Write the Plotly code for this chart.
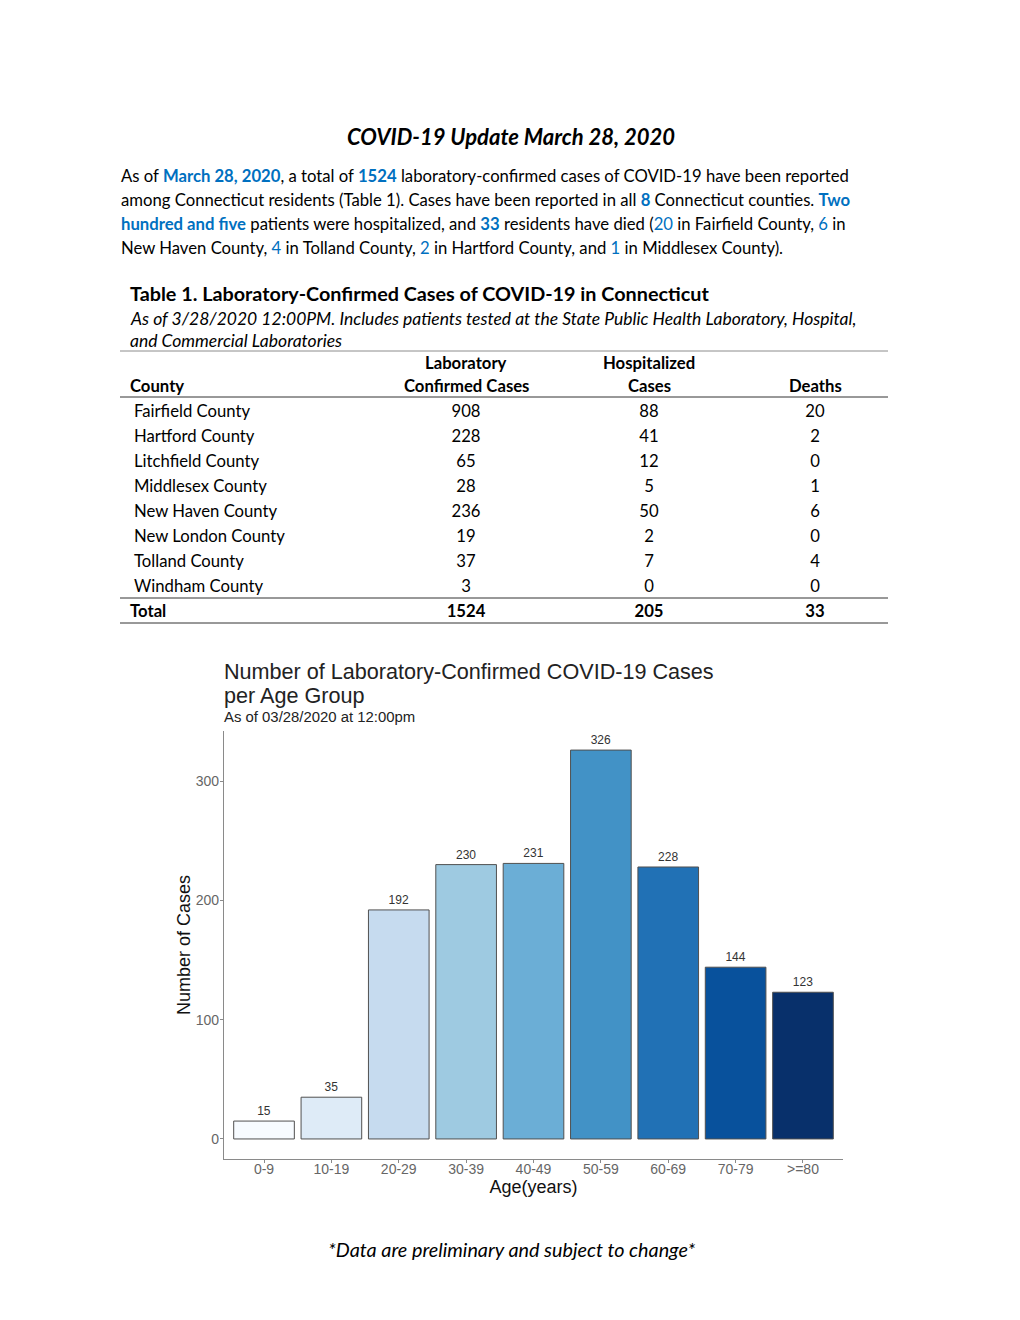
import plotly.graph_objects as go

W, H = 1020, 1320
def px(x): return x / W
def py(y): return 1 - y / H

# ---------------- data ----------------
age_groups = ["0-9", "10-19", "20-29", "30-39", "40-49", "50-59", "60-69", "70-79", ">=80"]
age_cases = [15, 35, 192, 230, 231, 326, 228, 144, 123]
bar_colors = ["#F7FBFF", "#DEEBF7", "#C6DBEF", "#9ECAE1", "#6BAED6",
              "#4292C6", "#2171B5", "#08519C", "#08306B"]
y_ticks = [0, 100, 200, 300]

counties = ["Fairfield County", "Hartford County", "Litchfield County", "Middlesex County",
            "New Haven County", "New London County", "Tolland County", "Windham County"]
lab_cases = [908, 228, 65, 28, 236, 19, 37, 3]
hospitalized = [88, 41, 12, 5, 50, 2, 7, 0]
deaths = [20, 2, 0, 1, 6, 0, 4, 0]

BODY = "Lato"
CHART = "Liberation Sans"
BLUE = "#0070C0"

fig = go.Figure()

# ---------------- bar chart ----------------
fig.add_trace(go.Bar(
    x=age_groups, y=age_cases, width=0.9,
    marker=dict(color=bar_colors, line=dict(color="#505050", width=1)),
    text=age_cases, textposition="outside", cliponaxis=False,
    textfont=dict(family=CHART, size=12, color="#333333"),
    xaxis="x", yaxis="y", showlegend=False, hoverinfo="x+y",
))

# ---------------- table ----------------
rows = list(range(len(counties)))
total_row = len(counties)
cell_font = dict(family=BODY, size=16.7, color="#000000")
fig.add_trace(go.Scatter(x=[134] * len(counties), y=rows, text=counties, mode="text",
                         textposition="middle right", textfont=cell_font, cliponaxis=False,
                         xaxis="x2", yaxis="y2", showlegend=False, hoverinfo="skip"))
for xc, vals in [(466, lab_cases), (649, hospitalized), (815, deaths)]:
    fig.add_trace(go.Scatter(x=[xc] * len(vals), y=rows, text=[str(v) for v in vals], mode="text",
                             textposition="middle center", textfont=cell_font, cliponaxis=False,
                             xaxis="x2", yaxis="y2", showlegend=False, hoverinfo="skip"))
totals = [sum(lab_cases), sum(hospitalized), sum(deaths)]
fig.add_trace(go.Scatter(x=[130, 466, 649, 815], y=[total_row] * 4,
                         text=["<b>Total</b>"] + [f"<b>{t}</b>" for t in totals], mode="text",
                         textposition=["middle right", "middle center", "middle center", "middle center"],
                         textfont=cell_font, cliponaxis=False,
                         xaxis="x2", yaxis="y2", showlegend=False, hoverinfo="skip"))

annotations = []
def ann(text, x, y, size=16.7, family=BODY, color="#000000", xanchor="left", **kw):
    if xanchor == "left":
        x -= 2  # compensate annotation padding
    annotations.append(dict(text=text, x=px(x), y=py(y), xref="paper", yref="paper",
                            xanchor=xanchor, yanchor="middle", showarrow=False,
                            font=dict(family=family, size=size, color=color), **kw))

def b(t):
    return f"<b><span style='color:{BLUE}'>{t}</span></b>"
def bl(t):
    return f"<span style='color:{BLUE}'>{t}</span>"

# page title
ann("<b><i>COVID-19 Update March 28, 2020</i></b>", 511, 136, size=22, xanchor="center")

# paragraph
para = [
    f"As of {b('March 28, 2020')}, a total of {b('1524')} laboratory-confirmed cases of COVID-19 have been reported",
    f"among Connecticut residents (Table 1). Cases have been reported in all {b('8')} Connecticut counties. {b('Two')}",
    f"{b('hundred and five')} patients were hospitalized, and {b('33')} residents have died ({bl('20')} in Fairfield County, {bl('6')} in",
    f"New Haven County, {bl('4')} in Tolland County, {bl('2')} in Hartford County, and {bl('1')} in Middlesex County).",
]
for i, line in enumerate(para):
    ann(line, 121, 176 + 24 * i)

# table title
ann("<b>Table 1. Laboratory-Confirmed Cases of COVID-19 in Connecticut</b>", 130, 293, size=19.8)
ann("<i>As of 3/28/2020 12:00PM. Includes patients tested at the State Public Health Laboratory, Hospital,</i>",
    130, 318, size=17.5)
ann("<i>and Commercial Laboratories</i>", 130, 340, size=17.5)
# headers
ann("<b>County</b>", 130, 386)
ann("<b>Laboratory</b>", 466, 363, xanchor="center")
ann("<b>Confirmed Cases</b>", 466, 386, xanchor="center")
ann("<b>Hospitalized</b>", 649, 363, xanchor="center")
ann("<b>Cases</b>", 649, 386, xanchor="center")
ann("<b>Deaths</b>", 815, 386, xanchor="center")

# chart titles
ann("Number of Laboratory-Confirmed COVID-19 Cases", 224, 672, size=21.6, family=CHART, color="#222222")
ann("per Age Group", 224, 696, size=21.6, family=CHART, color="#222222")
ann("As of 03/28/2020 at 12:00pm", 224, 717, size=14.9, family=CHART, color="#222222")

# footer
ann("<i>*Data are preliminary and subject to change*</i>", 511, 1249, size=19.8, xanchor="center")

rule = dict(color="#333333", width=1)
shapes = [
    dict(type="line", xref="paper", yref="paper", x0=px(120), x1=px(888), y0=py(351), y1=py(351),
         line=dict(color="#8c8c8c", width=1)),
    dict(type="line", xref="x2", yref="y2", x0=120, x1=888, y0=-0.64, y1=-0.64, line=rule),
    dict(type="line", xref="x2", yref="y2", x0=120, x1=888, y0=total_row - 0.6, y1=total_row - 0.6, line=rule),
    dict(type="line", xref="x2", yref="y2", x0=120, x1=888, y0=total_row + 0.4, y1=total_row + 0.4, line=rule),
]

axis_common = dict(showline=True, linecolor="#8a8a8a", linewidth=1.3, ticks="outside", ticklen=3,
                   tickcolor="#8a8a8a", showgrid=False, zeroline=False,
                   tickfont=dict(family=CHART, size=14, color="#666666"))

fig.update_layout(
    width=W, height=H, margin=dict(l=0, r=0, t=0, b=0),
    paper_bgcolor="white", plot_bgcolor="white", showlegend=False,
    xaxis=dict(domain=[px(224), px(843)], anchor="y", range=[-0.594, 8.594], ticklabelstandoff=-6,
               title=dict(text="Age(years)", font=dict(family=CHART, size=18, color="#111111"), standoff=2),
               **axis_common),
    yaxis=dict(domain=[py(1159), py(731)], anchor="x", range=[-16.8, 342], tickvals=y_ticks,
               ticklabelstandoff=-2,
               title=dict(text="Number of Cases", font=dict(family=CHART, size=18, color="#111111"), standoff=0),
               **axis_common),
    xaxis2=dict(domain=[0, 1], range=[0, W], visible=False, anchor="y2"),
    yaxis2=dict(domain=[py(630.5), py(395.5)], range=[total_row + 0.7, -0.7], visible=False, anchor="x2"),
    annotations=annotations, shapes=shapes,
)

fig.write_html("out.html", config={"displayModeBar": False},
               post_script="document.body.style.margin='0';")
